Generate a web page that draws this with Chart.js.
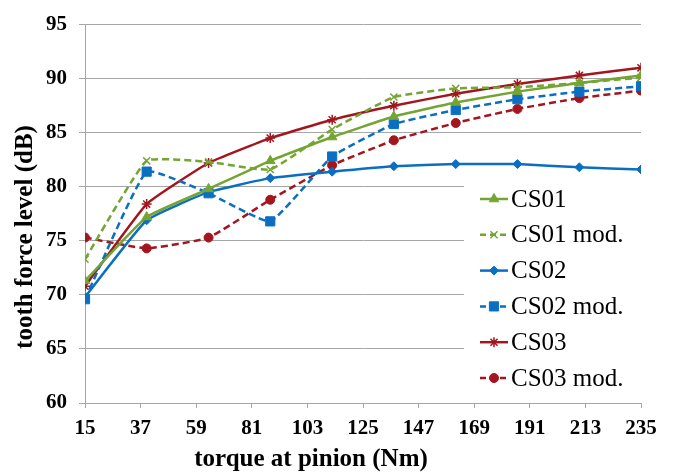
<!DOCTYPE html>
<html>
<head>
<meta charset="utf-8">
<title>tooth force level</title>
<script src="https://cdn.jsdelivr.net/npm/chart.js@4.4.1/dist/chart.umd.min.js"></script>
<style>
  html, body { margin: 0; padding: 0; background: #fff; }
  #grafico { display: block; }
</style>
</head>
<body>
<canvas id="grafico" width="674" height="473"></canvas>
<script>
// torque at pinion (Nm), ten load steps
const torque = [15, 39.4, 63.9, 88.3, 112.8, 137.2, 161.7, 186.1, 210.6, 235];
const xTicks = [15, 37, 59, 81, 103, 125, 147, 169, 191, 213, 235];
const yTicks = [60, 65, 70, 75, 80, 85, 90, 95];

// tooth force level (dB)
const cs01    = [71.3, 77.2, 79.8, 82.4, 84.6, 86.5, 87.8, 88.8, 89.6, 90.3];
const cs01Mod = [73.3, 82.4, 82.3, 81.6, 85.3, 88.3, 89.1, 89.2, 89.6, 90.1];
const cs02    = [69.8, 76.9, 79.5, 80.8, 81.4, 81.9, 82.1, 82.1, 81.8, 81.6];
const cs02Mod = [69.6, 81.4, 79.4, 76.8, 82.8, 85.8, 87.1, 88.1, 88.8, 89.3];
const cs03    = [70.8, 78.4, 82.2, 84.5, 86.2, 87.5, 88.6, 89.5, 90.3, 91.0];
const cs03Mod = [75.3, 74.3, 75.3, 78.8, 82.0, 84.3, 85.9, 87.2, 88.2, 88.9];
const nomes = ['CS01', 'CS01 mod.', 'CS02', 'CS02 mod.', 'CS03', 'CS03 mod.'];

const verde = '#74A533';
const azul = '#0A6FC2';
const vermelho = '#A3161F';
const cinza = '#A6A6A6';
const fonte = '"Liberation Serif", "Times New Roman", serif';

function pontos(valores) {
    return valores.map((v, i) => ({ x: torque[i], y: v }));
}

function serie(label, valores, cor, estilo, raio, tracejado) {
    return {
        label: label,
        data: pontos(valores),
        borderColor: cor,
        backgroundColor: cor,
        borderWidth: 2.5,
        borderDash: tracejado ? [7, 4] : [],
        tension: 0.12,
        pointStyle: estilo,
        pointRadius: raio,
        pointBorderWidth: (estilo === 'crossRot' || estilo === 'star') ? 1.5 : 1,
        pointBorderColor: cor,
        pointBackgroundColor: cor,
        fill: false
    };
}

const datasets = [
    serie(nomes[0], cs01, verde, 'triangle', 5.5, false),
    serie(nomes[1], cs01Mod, verde, 'crossRot', 5, true),
    serie(nomes[2], cs02, azul, 'rectRot', 4.5, false),
    serie(nomes[3], cs02Mod, azul, 'rect', 6.5, true),
    serie(nomes[4], cs03, vermelho, 'star', 5, false),
    serie(nomes[5], cs03Mod, vermelho, 'circle', 4.5, true)
];

// axis titles, drawn by hand because Excel puts them off-centre
const titulos = {
    id: 'titulos',
    afterDraw(chart) {
        const ctx = chart.ctx;
        ctx.save();
        ctx.fillStyle = '#000';
        ctx.font = 'bold 25px ' + fonte;
        ctx.textAlign = 'center';
        ctx.textBaseline = 'middle';
        ctx.fillText('torque at pinion (Nm)', 311, 460);
        ctx.translate(26, 237);
        ctx.rotate(-Math.PI / 2);
        ctx.fillText('tooth force level (dB)', 0, 0);
        ctx.restore();
    }
};

// legend inside the plot area with a white box
const legenda = {
    id: 'legenda',
    afterDraw(chart) {
        const ctx = chart.ctx;
        ctx.save();
        ctx.fillStyle = '#fff';
        ctx.fillRect(464, 178, 210, 219);
        chart.data.datasets.forEach((ds, i) => {
            const y = 199 + i * 35.8;
            ctx.strokeStyle = ds.borderColor;
            ctx.lineWidth = 2.5;
            ctx.setLineDash(ds.borderDash.length ? [6, 4] : []);
            ctx.beginPath();
            ctx.moveTo(480, y);
            ctx.lineTo(508, y);
            ctx.stroke();
            ctx.setLineDash([]);
            ctx.fillStyle = ds.backgroundColor;
            ctx.lineWidth = ds.pointBorderWidth;
            if (Chart.helpers && Chart.helpers.drawPoint) {
                Chart.helpers.drawPoint(ctx, {
                    pointStyle: ds.pointStyle,
                    radius: ds.pointRadius,
                    rotation: 0,
                    borderWidth: ds.pointBorderWidth
                }, 494, y);
            }
        });
        // labels after the markers so the font is set once
        ctx.fillStyle = '#000';
        ctx.font = 'normal 25px ' + fonte;
        ctx.textAlign = 'left';
        ctx.textBaseline = 'middle';
        chart.data.datasets.forEach((ds, i) => {
            ctx.fillText(ds.label, 511, 200 + i * 35.8);
        });
        ctx.restore();
    }
};

const ctx = document.getElementById('grafico').getContext('2d');
new Chart(ctx, {
    type: 'line',
    data: { datasets: datasets },
    options: {
        responsive: false,
        devicePixelRatio: 1,
        animation: false,
        layout: { padding: { left: 0, right: 33, top: 19, bottom: 0 } },
        plugins: {
            legend: { display: false },
            tooltip: { enabled: false }
        },
        scales: {
            x: {
                type: 'linear',
                min: 15,
                max: 235,
                afterBuildTicks: scale => { scale.ticks = xTicks.map(v => ({ value: v })); },
                afterFit: scale => { scale.height = 70; },
                ticks: {
                    color: '#000',
                    padding: 8,
                    maxRotation: 0,
                    font: { family: fonte, size: 21, weight: 'bold' }
                },
                grid: {
                    drawOnChartArea: false,
                    drawTicks: true,
                    tickLength: 5,
                    color: cinza
                },
                border: { color: cinza, width: 1 }
            },
            y: {
                min: 60,
                max: 95,
                afterBuildTicks: scale => { scale.ticks = yTicks.map(v => ({ value: v })); },
                afterFit: scale => { scale.width = 85; },
                ticks: {
                    color: '#000',
                    padding: 12,
                    font: { family: fonte, size: 21, weight: 'bold' }
                },
                grid: {
                    color: cinza,
                    tickLength: 6,
                    lineWidth: 1
                },
                border: { color: cinza, width: 1 }
            }
        }
    },
    plugins: [titulos, legenda]
});
</script>
</body>
</html>
